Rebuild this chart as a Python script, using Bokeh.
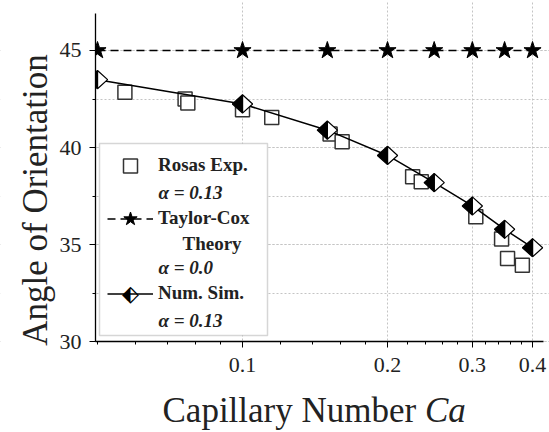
import math
from bokeh.plotting import figure
from bokeh.models import (ColumnDataSource, FixedTicker, SingleIntervalTicker, Range1d,
                          Legend, LegendItem, Label, BoxAnnotation, CustomJSTickFormatter)
from bokeh.embed import file_html
from bokeh.resources import INLINE

# ---------------- data ----------------
x_major_ticks = [0.1, 0.2, 0.3, 0.4]
x_minor_ticks = [0.05, 0.06, 0.07, 0.08, 0.09, 0.12, 0.14, 0.16, 0.18,
                 0.22, 0.24, 0.26, 0.28, 0.32, 0.34, 0.36, 0.38]

taylor_x = [0.05, 0.1, 0.15, 0.2, 0.25, 0.3, 0.35, 0.4]
taylor_y = [45.0, 45.0, 45.0, 45.0, 45.0, 45.0, 45.0, 45.0]

sim_x = [0.05, 0.1, 0.15, 0.2, 0.25, 0.3, 0.35, 0.4]
sim_y = [43.5, 42.25, 40.9, 39.6, 38.2, 37.0, 35.8, 34.85]

exp_x = [0.057, 0.076, 0.077, 0.1, 0.115, 0.152, 0.161, 0.2255, 0.235, 0.305, 0.345, 0.355, 0.381]
exp_y = [42.85, 42.5, 42.3, 41.95, 41.55, 40.7, 40.3, 38.5, 38.25, 36.45, 35.3, 34.3, 33.95]

# ---------------- style / layout constants ----------------
FONT = "Liberation Serif"
HALF_W_DEC = 0.021   # half width of diamond marker, in decades
HALF_H = 0.47        # half height of diamond marker, in y units
GRID = "#c4c4c4"
X_VIEW = (0.03145, 0.4338)     # whole canvas width
Y_VIEW = (25.342, 47.573)      # whole canvas height
X_AXIS_AT = 30.0
Y_AXIS_AT = 0.0495
X_BOUNDS = (0.0495, 0.422)
Y_BOUNDS = (30.0, 46.9)

p = figure(width=549, height=432, x_axis_type="log",
           x_range=Range1d(*X_VIEW), y_range=Range1d(*Y_VIEW),
           output_backend="svg", toolbar_location=None,
           min_border=0, min_border_left=0, min_border_right=0,
           min_border_top=0, min_border_bottom=0)
p.outline_line_color = None
p.background_fill_color = "white"
p.border_fill_color = "white"

# axes (drawn inside the frame at fixed locations)
p.xaxis.ticker = FixedTicker(ticks=x_major_ticks, minor_ticks=x_minor_ticks)
p.xaxis.formatter = CustomJSTickFormatter(code="return tick.toString()")
p.xaxis.fixed_location = X_AXIS_AT
p.xaxis.bounds = X_BOUNDS
p.yaxis.ticker = SingleIntervalTicker(interval=5, num_minor_ticks=2)
p.yaxis.fixed_location = Y_AXIS_AT
p.yaxis.bounds = Y_BOUNDS
for ax in (p.xaxis[0], p.yaxis[0]):
    ax.axis_line_color = "black"
    ax.axis_line_width = 1.3
    ax.major_tick_line_color = "black"
    ax.minor_tick_line_color = "black"
    ax.major_tick_out = 6
    ax.major_tick_in = 0
    ax.minor_tick_out = 3
    ax.minor_tick_in = 0
    ax.major_label_text_font = FONT
    ax.major_label_text_font_size = "22px"
    ax.major_label_text_color = "#222222"
p.yaxis.major_label_standoff = 8
p.xaxis.major_label_standoff = 10

# grid
p.xgrid.grid_line_color = GRID
p.xgrid.grid_line_dash = "2 2"
p.ygrid.grid_line_color = GRID
p.ygrid.grid_line_dash = "2 2"
p.ygrid.minor_grid_line_color = GRID
p.ygrid.minor_grid_line_dash = "2 2"
p.ygrid.bounds = (30, 47)

# white masks outside the axes (hide grid lines there)
p.add_layout(BoxAnnotation(top=X_AXIS_AT, fill_color="white", fill_alpha=1.0,
                           line_color=None, level="glyph"))
p.add_layout(BoxAnnotation(right=Y_AXIS_AT, fill_color="white", fill_alpha=1.0,
                           line_color=None, level="glyph"))

# ---------------- glyphs ----------------
exp_src = ColumnDataSource(dict(x=exp_x, y=exp_y))
exp_r = p.scatter("x", "y", source=exp_src, marker="square", size=14,
                  fill_color="white", line_color="#333333", line_width=1.5)

sim_src = ColumnDataSource(dict(x=sim_x, y=sim_y))
sim_line = p.line("x", "y", source=sim_src, line_color="black", line_width=1.5)

left_xs = [[x * 10 ** (-HALF_W_DEC), x, x] for x in sim_x]
left_ys = [[y, y + HALF_H, y - HALF_H] for y in sim_y]
right_xs = [[x, x * 10 ** HALF_W_DEC, x] for x in sim_x]
right_ys = [[y + HALF_H, y, y - HALF_H] for y in sim_y]
p.patches(right_xs, right_ys, fill_color="white", line_color="black", line_width=1.2)
p.patches(left_xs, left_ys, fill_color="black", line_color="black", line_width=1.2)

tc_src = ColumnDataSource(dict(x=taylor_x, y=taylor_y))
tc_line = p.line("x", "y", source=tc_src, line_color="black", line_width=1.5, line_dash="8 5")
tc_star = p.scatter("x", "y", source=tc_src, marker="star", size=18,
                    fill_color="black", line_color="black")

# ---------------- legend ----------------
p.add_layout(BoxAnnotation(left=99, right=267, bottom=97, top=289,
                           left_units="screen", right_units="screen",
                           bottom_units="screen", top_units="screen",
                           fill_color="white", fill_alpha=1.0,
                           line_color="#777777", line_width=1.5))


def make_legend(label, renderers, cy, gh=35):
    return Legend(items=[LegendItem(label=label, renderers=renderers)],
                  location=(107, cy - gh / 2), glyph_width=46, glyph_height=gh,
                  label_height=gh, label_standoff=5, padding=0, margin=0, spacing=0,
                  border_line_color=None, background_fill_alpha=0,
                  label_text_font=FONT, label_text_font_size="19px",
                  label_text_font_style="bold", label_text_color="#222222")


p.add_layout(make_legend("Rosas Exp.", [exp_r], 267))
p.add_layout(make_legend("Taylor-Cox", [tc_line, tc_star], 214))
p.add_layout(make_legend("Num. Sim.", [sim_line], 139))


def lbl(text, x, y, style="bold italic", size="19px", font=FONT, **kw):
    p.add_layout(Label(x=x, y=y, x_units="screen", y_units="screen", text=text,
                       text_font=font, text_font_size=size, text_font_style=style,
                       text_color=kw.pop("color", "#222222"),
                       text_baseline=kw.pop("baseline", "middle"), **kw))


# half-filled diamond symbol of the "Num. Sim." legend entry
lbl("⬖", 130, 139, style="normal", size="22px", font="DejaVu Sans", color="black",
    text_align="center", background_fill_color="white")

lbl("α = 0.13", 158, 240)
lbl("Theory", 182, 189, style="bold")
lbl("α = 0.0", 158, 165)
lbl("α = 0.13", 158, 112)

# axis titles
lbl("Capillary Number", 162, 22, style="normal", size="35px")
lbl("Ca", 424.5, 22, style="italic", size="35px")
lbl("Angle of Orientation", 35, 232.5, style="normal", size="35px",
    angle=math.pi / 2, text_align="center")

open("out.html", "w").write(file_html(p, INLINE))
